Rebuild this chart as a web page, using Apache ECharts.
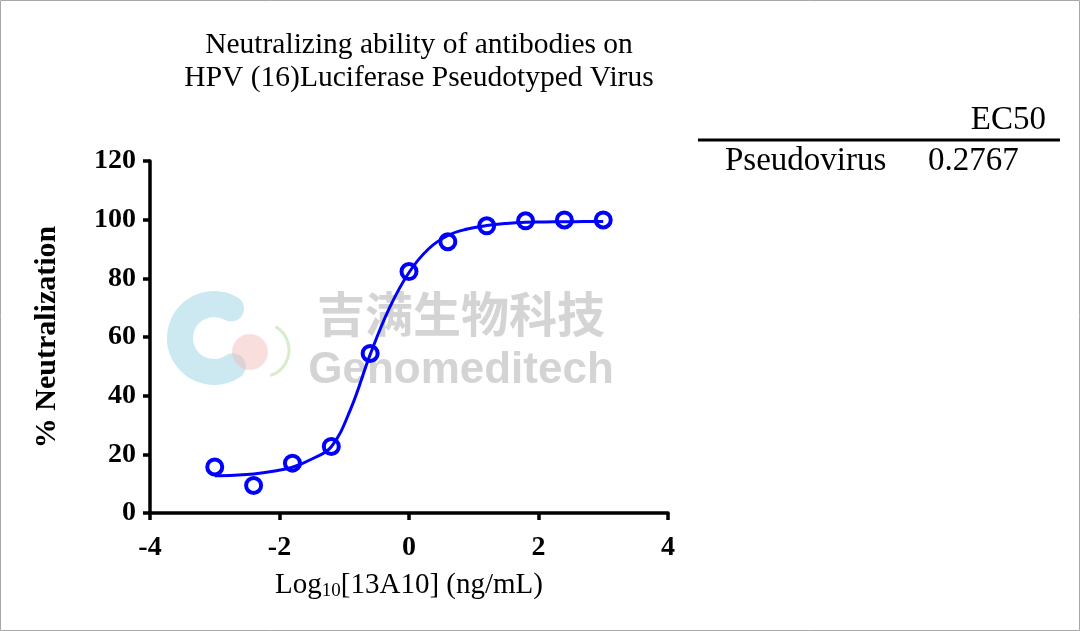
<!DOCTYPE html>
<html>
<head>
<meta charset="utf-8">
<script src="https://cdn.jsdelivr.net/npm/echarts@6/dist/echarts.min.js"></script>
<style>
html,body{margin:0;padding:0;background:#fff;}
#c{width:1080px;height:631px;}
</style>
</head>
<body>
<div id="c"></div>
<script>
// Data
var titleLines = ['Neutralizing ability of antibodies on', 'HPV (16)Luciferase Pseudotyped Virus'];
var xTicks = { min: -4, max: 4, step: 2 };
var yTicks = { min: 0, max: 120, step: 20 };
var pointX = [-3, -2.4, -1.8, -1.2, -0.6, 0, 0.6, 1.2, 1.8, 2.4, 3];
var pointY = [15.7, 9.4, 17.0, 22.7, 54.4, 82.3, 92.5, 97.9, 99.6, 99.9, 99.9];
var curveX = [-3.0, -2.7, -2.4, -2.1, -1.8, -1.5, -1.2, -0.9, -0.6, -0.3, 0, 0.3, 0.6, 0.9, 1.2, 1.5, 1.8, 2.1, 2.4, 2.7, 3.0];
var curveY = [12.7, 12.9, 13.3, 14.2, 15.6, 18.4, 22.6, 35.5, 54.0, 70.0, 82.0, 90.0, 94.6, 96.8, 98.0, 98.7, 99.1, 99.2, 99.3, 99.35, 99.4];
var tableHeader = 'EC50';
var tableRowName = 'Pseudovirus';
var tableRowValue = '0.2767';
var watermarkCN = '吉满生物科技';
var watermarkEN = 'Genomeditech';

var SERIF = '"Liberation Serif", "Times New Roman", serif';
var BLUE = '#0000ff';

var chart = echarts.init(document.getElementById('c'), null, { renderer: 'canvas' });

function zip(a, b) { return a.map(function (v, i) { return [v, b[i]]; }); }

var option = {
  backgroundColor: '#ffffff',
  animation: false,
  grid: { left: 150, right: 412, top: 161, bottom: 118, containLabel: false },
  xAxis: {
    type: 'value', min: xTicks.min, max: xTicks.max, interval: xTicks.step,
    splitLine: { show: false },
    axisLine: { show: true, onZero: false, lineStyle: { color: '#000', width: 3.5 } },
    axisTick: { show: true, inside: false, length: 7, lineStyle: { color: '#000', width: 3.5 } },
    axisLabel: { color: '#000', fontFamily: SERIF, fontWeight: 'bold', fontSize: 28, margin: 21 },
    name: '{a|Log}{s|10}{a|[13A10] (ng/mL)}',
    nameLocation: 'middle', nameGap: 56,
    nameTextStyle: {
      rich: {
        a: { fontFamily: SERIF, fontSize: 29, color: '#000', lineHeight: 32, verticalAlign: 'middle' },
        s: { fontFamily: SERIF, fontSize: 19, color: '#000', lineHeight: 17, verticalAlign: 'bottom' }
      }
    }
  },
  yAxis: {
    type: 'value', min: yTicks.min, max: yTicks.max, interval: yTicks.step,
    splitLine: { show: false },
    axisLine: { show: true, onZero: false, lineStyle: { color: '#000', width: 3.5 } },
    axisTick: { show: true, inside: false, length: 7, lineStyle: { color: '#000', width: 3.5 } },
    axisLabel: { color: '#000', fontFamily: SERIF, fontWeight: 'bold', fontSize: 28, margin: 14 },
    name: '% Neutralization',
    nameLocation: 'middle', nameRotate: 90, nameGap: 88,
    nameTextStyle: { fontFamily: SERIF, fontWeight: 'bold', fontSize: 30, color: '#000' }
  },
  series: [
    {
      type: 'line', data: zip(curveX, curveY), smooth: 0.4,
      showSymbol: false, symbol: 'none', z: 3,
      lineStyle: { color: BLUE, width: 3 }
    },
    {
      type: 'scatter', data: zip(pointX, pointY), symbol: 'circle', symbolSize: 15, z: 4,
      itemStyle: { color: 'rgba(0,0,0,0)', borderColor: BLUE, borderWidth: 4, opacity: 1 }
    }
  ],
  graphic: [
    { type: 'rect', z: 100, silent: true, shape: { x: 0.5, y: 0.5, width: 1079, height: 630 },
      style: { fill: 'none', stroke: '#a8a8a8', lineWidth: 1 } },
    // watermark logo (decorative)
    { type: 'arc', z: 0, silent: true, shape: { cx: 214, cy: 338, r: 34, startAngle: Math.PI / 3.2, endAngle: Math.PI * 5 / 3, clockwise: true },
      style: { stroke: 'rgba(170,218,232,0.6)', lineWidth: 26, lineCap: 'round', fill: 'none' } },
    { type: 'circle', z: 0, silent: true, shape: { cx: 250, cy: 352, r: 18 },
      style: { fill: 'rgba(242,182,182,0.45)' } },
    { type: 'arc', z: 0, silent: true, shape: { cx: 262, cy: 350, r: 27, startAngle: -Math.PI / 3, endAngle: Math.PI / 2.5, clockwise: true },
      style: { stroke: 'rgba(200,228,180,0.7)', lineWidth: 3, fill: 'none' } },
    { type: 'text', z: 0, silent: true,
      style: { text: watermarkCN, x: 461, y: 314, textAlign: 'center', textVerticalAlign: 'middle',
        font: 'bold 48px "Noto Sans CJK SC"', fill: '#d4d4d4' } },
    { type: 'text', z: 0, silent: true,
      style: { text: watermarkEN, x: 461, y: 371, textAlign: 'center', textVerticalAlign: 'middle',
        font: 'bold 44px "Liberation Sans", Arial, sans-serif', fill: '#d4d4d4' } },
    // title
    { type: 'text', z: 10, style: { text: titleLines[0], x: 419, y: 45, textAlign: 'center', textVerticalAlign: 'middle',
        font: '29.5px ' + SERIF, fill: '#000' } },
    { type: 'text', z: 10, style: { text: titleLines[1], x: 419, y: 78, textAlign: 'center', textVerticalAlign: 'middle',
        font: '29.5px ' + SERIF, fill: '#000' } },
    // EC50 table
    { type: 'text', z: 10, style: { text: tableHeader, x: 1046, y: 120, textAlign: 'right', textVerticalAlign: 'middle',
        font: '33px ' + SERIF, fill: '#000' } },
    { type: 'line', z: 10, shape: { x1: 698, y1: 140, x2: 1060, y2: 140 }, style: { stroke: '#000', lineWidth: 3 } },
    { type: 'text', z: 10, style: { text: tableRowName, x: 725, y: 161, textAlign: 'left', textVerticalAlign: 'middle',
        font: '33px ' + SERIF, fill: '#000' } },
    { type: 'text', z: 10, style: { text: tableRowValue, x: 928, y: 161, textAlign: 'left', textVerticalAlign: 'middle',
        font: '33px ' + SERIF, fill: '#000' } }
  ]
};
chart.setOption(option);
</script>
</body>
</html>
